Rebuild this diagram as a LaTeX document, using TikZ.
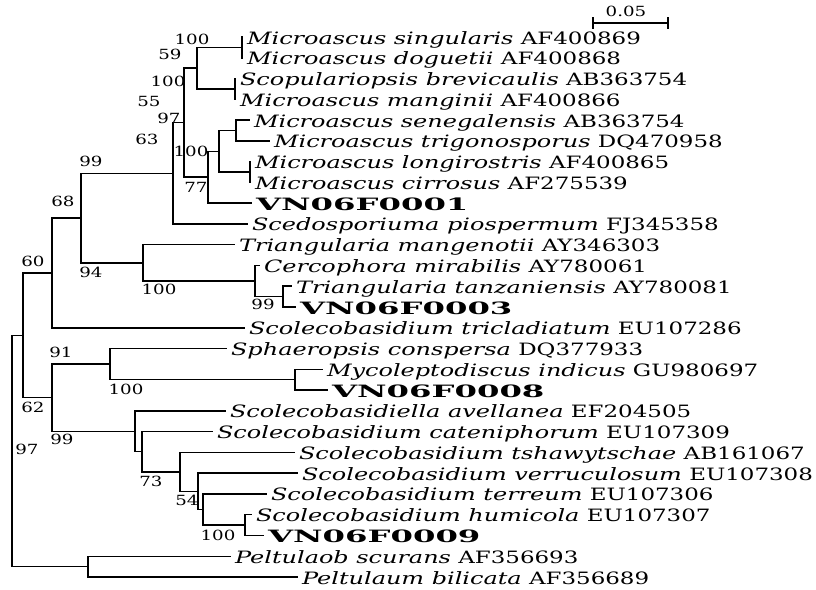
\documentclass[tikz,border=0pt]{standalone}
\usepackage{fontspec}
\setmainfont{DejaVu Serif}[UprightFeatures={FakeStretch=1.35},ItalicFeatures={FakeStretch=1.41},BoldFeatures={FakeStretch=1.9}]
\newfontfamily\bsfont[FakeStretch=1.3]{DejaVu Serif}
\begin{document}
\begin{tikzpicture}[x=0.75pt,y=-0.75pt,line width=1.1pt,
  br/.style={draw=black,line width=1.1pt},
  leaf/.style={anchor=base west,inner sep=0pt,font=\fontsize{12.75pt}{14pt}\selectfont},
  boot/.style={inner sep=0pt,font=\bsfont\fontsize{10.5pt}{12pt}\selectfont},
  sbar/.style={inner sep=0pt,font=\bsfont\fontsize{10.5pt}{12pt}\selectfont}]
\fill[white] (0,0) rectangle (816,589);
\useasboundingbox (0,0) rectangle (816,589);
% internal nodes
\coordinate (R) at (12,451);
\coordinate (A) at (23,335.3);
\coordinate (B) at (52,272.95);
\coordinate (C) at (52,397.7);
\coordinate (D) at (81,218.1);
\coordinate (E) at (173,173.3);
\coordinate (F) at (143,262.9);
\coordinate (G) at (184,122.7);
\coordinate (H) at (197,68.15);
\coordinate (H1) at (242,47.4);
\coordinate (H2) at (235,88.9);
\coordinate (I) at (208,177.2);
\coordinate (J) at (219,151.25);
\coordinate (K) at (236,130.5);
\coordinate (J2) at (250,172.0);
\coordinate (L) at (255,281.05);
\coordinate (M) at (283,296.6);
\coordinate (N) at (110,364.15);
\coordinate (P) at (295,379.7);
\coordinate (O) at (135,431.3);
\coordinate (Q) at (142,451.75);
\coordinate (S) at (180,471.9);
\coordinate (T) at (198,491.35);
\coordinate (U) at (203,509.5);
\coordinate (V) at (245,525.1);
\coordinate (W) at (88,566.65);
% leaf tips
\coordinate (t1) at (243,37.0);
\coordinate (t2) at (243,57.8);
\coordinate (t3) at (236,78.5);
\coordinate (t4) at (236,99.3);
\coordinate (t5) at (250,120.1);
\coordinate (t6) at (270,140.9);
\coordinate (t7) at (251,161.6);
\coordinate (t8) at (251,182.4);
\coordinate (t9) at (252,203.2);
\coordinate (t10) at (248,223.9);
\coordinate (t11) at (235,244.7);
\coordinate (t12) at (260,265.5);
\coordinate (t13) at (292,286.2);
\coordinate (t14) at (296,307.0);
\coordinate (t15) at (245,327.8);
\coordinate (t16) at (227,348.6);
\coordinate (t17) at (323,369.3);
\coordinate (t18) at (328,390.1);
\coordinate (t19) at (226,410.9);
\coordinate (t20) at (213,431.6);
\coordinate (t21) at (295,452.4);
\coordinate (t22) at (298,473.2);
\coordinate (t23) at (267,493.9);
\coordinate (t24) at (252,514.7);
\coordinate (t25) at (264,535.5);
\coordinate (t26) at (231,556.3);
\coordinate (t27) at (298,577.0);
% branches
\draw[br] (R) |- (A); \draw[br] (R) |- (W);
\draw[br] (A) |- (B); \draw[br] (A) |- (C);
\draw[br] (B) |- (D); \draw[br] (B) |- (t15);
\draw[br] (D) |- (E); \draw[br] (D) |- (F);
\draw[br] (E) |- (G); \draw[br] (E) |- (t10);
\draw[br] (G) |- (H); \draw[br] (G) |- (I);
\draw[br] (H) |- (H1); \draw[br] (H) |- (H2);
\draw[br] (H1) |- (t1); \draw[br] (H1) |- (t2);
\draw[br] (H2) |- (t3); \draw[br] (H2) |- (t4);
\draw[br] (I) |- (J); \draw[br] (I) |- (t9);
\draw[br] (J) |- (K); \draw[br] (J) |- (J2);
\draw[br] (K) |- (t5); \draw[br] (K) |- (t6);
\draw[br] (J2) |- (t7); \draw[br] (J2) |- (t8);
\draw[br] (F) |- (t11); \draw[br] (F) |- (L);
\draw[br] (L) |- (t12); \draw[br] (L) |- (M);
\draw[br] (M) |- (t13); \draw[br] (M) |- (t14);
\draw[br] (C) |- (N); \draw[br] (C) |- (O);
\draw[br] (N) |- (t16); \draw[br] (N) |- (P);
\draw[br] (P) |- (t17); \draw[br] (P) |- (t18);
\draw[br] (O) |- (t19); \draw[br] (O) |- (Q);
\draw[br] (Q) |- (t20); \draw[br] (Q) |- (S);
\draw[br] (S) |- (t21); \draw[br] (S) |- (T);
\draw[br] (T) |- (t22); \draw[br] (T) |- (U);
\draw[br] (U) |- (t23); \draw[br] (U) |- (V);
\draw[br] (V) |- (t24); \draw[br] (V) |- (t25);
\draw[br] (W) |- (t26); \draw[br] (W) |- (t27);
% leaf labels
\newcommand{\lbl}[3]{\node[leaf] (#1) at ([xshift=2.5pt,yshift=-5.25pt]#2) {#3};}
\lbl{l1}{t1}{\textit{Microascus singularis} AF400869}
\lbl{l2}{t2}{\textit{Microascus doguetii} AF400868}
\lbl{l3}{t3}{\textit{Scopulariopsis brevicaulis} AB363754}
\lbl{l4}{t4}{\textit{Microascus manginii} AF400866}
\lbl{l5}{t5}{\textit{Microascus senegalensis} AB363754}
\lbl{l6}{t6}{\textit{Microascus trigonosporus} DQ470958}
\lbl{l7}{t7}{\textit{Microascus longirostris} AF400865}
\lbl{l8}{t8}{\textit{Microascus cirrosus} AF275539}
\lbl{l9}{t9}{\textbf{VN06F0001}}
\lbl{l10}{t10}{\textit{Scedosporiuma piospermum} FJ345358}
\lbl{l11}{t11}{\textit{Triangularia mangenotii} AY346303}
\lbl{l12}{t12}{\textit{Cercophora mirabilis} AY780061}
\lbl{l13}{t13}{\textit{Triangularia tanzaniensis} AY780081}
\lbl{l14}{t14}{\textbf{VN06F0003}}
\lbl{l15}{t15}{\textit{Scolecobasidium tricladiatum} EU107286}
\lbl{l16}{t16}{\textit{Sphaeropsis conspersa} DQ377933}
\lbl{l17}{t17}{\textit{Mycoleptodiscus indicus} GU980697}
\lbl{l18}{t18}{\textbf{VN06F0008}}
\lbl{l19}{t19}{\textit{Scolecobasidiella avellanea} EF204505}
\lbl{l20}{t20}{\textit{Scolecobasidium cateniphorum} EU107309}
\lbl{l21}{t21}{\textit{Scolecobasidium tshawytschae} AB161067}
\lbl{l22}{t22}{\textit{Scolecobasidium verruculosum} EU107308}
\lbl{l23}{t23}{\textit{Scolecobasidium terreum} EU107306}
\lbl{l24}{t24}{\textit{Scolecobasidium humicola} EU107307}
\lbl{l25}{t25}{\textbf{VN06F0009}}
\lbl{l26}{t26}{\textit{Peltulaob scurans} AF356693}
\lbl{l27}{t27}{\textit{Peltulaum bilicata} AF356689}
% bootstrap values
\node[boot] (b1) at (192,39) {100};
\node[boot] (b2) at (170,54) {59};
\node[boot] (b3) at (168,81) {100};
\node[boot] (b4) at (149,101) {55};
\node[boot] (b5) at (169,118) {97};
\node[boot] (b6) at (147,139) {63};
\node[boot] (b7) at (191,151) {100};
\node[boot] (b8) at (196,187) {77};
\node[boot] (b9) at (91,161) {99};
\node[boot] (b10) at (63,201) {68};
\node[boot] (b11) at (33,261) {60};
\node[boot] (b12) at (91,272) {94};
\node[boot] (b13) at (159,289) {100};
\node[boot] (b14) at (263,304) {99};
\node[boot] (b15) at (61,352) {91};
\node[boot] (b16) at (126,389) {100};
\node[boot] (b17) at (33,407) {62};
\node[boot] (b18) at (62,439) {99};
\node[boot] (b19) at (27,449) {97};
\node[boot] (b20) at (151,481) {73};
\node[boot] (b21) at (187,500) {54};
\node[boot] (b22) at (218,535) {100};
% scale bar
\coordinate (s1) at (593,23);
\coordinate (s2) at (668,23);
\draw[br] (s1) -- (s2);
\draw[br] ([yshift=4.5pt]s1) -- ([yshift=-4.5pt]s1);
\draw[br] ([yshift=4.5pt]s2) -- ([yshift=-4.5pt]s2);
\node[sbar] (sl) at (626,11.5) {0.05};
\end{tikzpicture}
\end{document}
